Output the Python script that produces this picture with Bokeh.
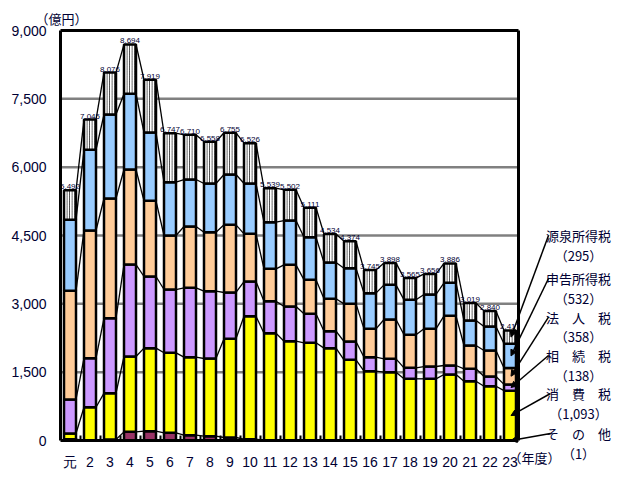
import numpy as np
from bokeh.plotting import figure
from bokeh.models import (FixedTicker, NumeralTickFormatter, Label, Arrow,
                          NormalHead, Range1d)
from bokeh.core.properties import value
from bokeh.embed import file_html
from bokeh.resources import INLINE

# ---------------- data (億円) ----------------
years = ["元", "2", "3", "4", "5", "6", "7", "8", "9", "10", "11", "12",
         "13", "14", "15", "16", "17", "18", "19", "20", "21", "22", "23"]
other = [30, 5, 20, 190, 205, 168, 117, 95, 66, 30, 0, 0,
         0, 0, 0, 0, 0, 0, 0, 0, 0, 0, 1]
consumption = [124, 726, 1019, 1654, 1822, 1757, 1712, 1705, 2166, 2699, 2356, 2180,
               2144, 2027, 1771, 1522, 1500, 1354, 1354, 1449, 1302, 1192, 1093]
inheritance = [746, 1076, 1646, 2019, 1573, 1389, 1522, 1478, 1017, 761, 702, 760,
               637, 373, 402, 307, 293, 241, 270, 197, 271, 213, 138]
corporate = [2385, 2803, 2627, 2085, 1661, 1186, 1346, 1295, 1485, 1047, 710, 916,
             746, 710, 827, 622, 863, 725, 827, 1091, 512, 571, 358]
self_assessed = [1559, 1771, 1844, 1662, 1500, 1170, 1032, 1068, 1105, 1104, 1024, 973,
                 936, 797, 782, 783, 761, 768, 754, 724, 549, 526, 532]
withholding = [648, 664, 920, 1084, 1158, 1077, 981, 917, 916, 885, 747, 673,
               648, 627, 592, 511, 481, 477, 451, 425, 385, 338, 295]
totals = [5492, 7045, 8076, 8694, 7919, 6747, 6710, 6558, 6755, 6526, 5539, 5502,
          5111, 4534, 4374, 3745, 3898, 3565, 3656, 3886, 3019, 2840, 2417]
series_names = ["そ　の　他", "消　費　税", "相　続　税", "法　人　税", "申告所得税", "源泉所得税"]
y_ticks = [0, 1500, 3000, 4500, 6000, 7500, 9000]

series = np.array([other, consumption, inheritance, corporate, self_assessed, withholding])
colors = ["#993366", "#FFFF00", "#CC99FF", "#FFCC99", "#99CCFF", "#FFFFFF"]

# ---------------- layout (page pixels -> data) ----------------
W, H = 620, 479           # canvas (Bokeh page has no body margin)
OFF = 0
PX_PER_X = 20.0           # pixels per category step
BAR1_PX = 69.5            # page x of first category
ZERO_PX, TOP_PX = 440.0, 30.0   # page y of 0 and of 9000
PX_PER_Y = (ZERO_PX - TOP_PX) / 9000.0

XL = 1 - (BAR1_PX - OFF) / PX_PER_X
XR = XL + W / PX_PER_X
YT = (ZERO_PX - OFF) / PX_PER_Y
YB = YT - H / PX_PER_Y


def dx(px):
    return 1 + (px - BAR1_PX) / PX_PER_X


def dy(py):
    return (ZERO_PX - py) / PX_PER_Y


TXT = "#000033"
NUMFONT = "Liberation Sans"
JPFONT = "Noto Sans CJK JP"
FRAME_L, FRAME_R = dx(60), dx(518)

p = figure(width=W, height=H, x_range=Range1d(XL, XR), y_range=Range1d(YB, YT),
           min_border=0, output_backend="svg", toolbar_location=None)
p.outline_line_color = None
p.background_fill_color = "white"
p.border_fill_color = "white"
p.xgrid.visible = False
p.ygrid.visible = False

xs = np.arange(1, len(years) + 1)
w = 0.6
cum = np.cumsum(series, axis=0)
bottoms = cum - series

# gridlines
grid_y = np.array(y_ticks[1:-1], dtype=float)
p.segment(x0=[FRAME_L] * len(grid_y), x1=[FRAME_R] * len(grid_y), y0=grid_y, y1=grid_y,
          line_color="#808080", line_width=2.5)

# series lines connecting stacked boundaries
for k in range(len(series)):
    p.segment(x0=xs[:-1] + w / 2, y0=cum[k][:-1], x1=xs[1:] - w / 2, y1=cum[k][1:],
              line_color="black", line_width=1.3)

for k in range(len(series)):
    kw = {}
    if k == len(series) - 1:
        kw = dict(hatch_pattern="vertical_line", hatch_color="black",
                  hatch_scale=2.5, hatch_weight=0.8)
    p.vbar(x=xs, bottom=bottoms[k], top=cum[k], width=w,
           fill_color=colors[k], line_color="black", line_width=2.5, **kw)

# frame: top and right border
p.segment(x0=[FRAME_L, FRAME_R], y0=[y_ticks[-1], 0], x1=[FRAME_R, FRAME_R],
          y1=[y_ticks[-1], y_ticks[-1]], line_color="black", line_width=3)

# totals
p.text(x=xs, y=totals, text=[f"{t:,}" for t in totals], text_align="center",
       text_baseline="bottom", y_offset=-1, text_font_size="8px",
       text_font=value(NUMFONT), text_color=TXT)

# axes placed at fixed locations inside the canvas
xax = p.xaxis[0]
xax.fixed_location = 0
xax.bounds = (FRAME_L, FRAME_R)
xax.ticker = FixedTicker(ticks=[int(x) for x in xs],
                         minor_ticks=[float(x) + 0.5 for x in xs[:-1]])
xax.major_label_overrides = {int(x): lab for x, lab in zip(xs, years)}
xax.axis_line_color = "black"
xax.axis_line_width = 3
xax.major_tick_in = 0
xax.major_tick_out = 0
xax.minor_tick_in = 5
xax.minor_tick_out = 0
xax.minor_tick_line_color = "black"
xax.minor_tick_line_width = 2
xax.major_label_standoff = 13
xax.major_label_text_font_size = "14px"
xax.major_label_text_font = NUMFONT
xax.major_label_text_color = TXT

yax = p.yaxis[0]
yax.fixed_location = FRAME_L
yax.bounds = (y_ticks[0], y_ticks[-1])
yax.ticker = FixedTicker(ticks=y_ticks)
yax.formatter = NumeralTickFormatter(format="0,0")
yax.axis_line_color = "black"
yax.axis_line_width = 3
yax.major_tick_in = 0
yax.major_tick_out = 0
yax.minor_tick_line_color = None
yax.major_label_standoff = 14
yax.major_label_text_font_size = "14px"
yax.major_label_text_font = NUMFONT
yax.major_label_text_color = TXT

# unit labels
p.add_layout(Label(x=dx(61), y=dy(18), text="（億円）", text_align="center",
                   text_baseline="middle", text_font=JPFONT,
                   text_font_size="13px", text_color=TXT))
p.add_layout(Label(x=dx(534), y=dy(457), text="（年度）", text_align="center",
                   text_baseline="middle", text_font=JPFONT,
                   text_font_size="13px", text_color=TXT))

# right-hand annotation with leaders to the last bar
name_py = [433, 393, 355, 316.7, 278, 235]
start_px = [550, 550, 548, 548, 548, 548]
last = len(years) - 1
for k in range(len(series)):
    v = int(series[k][last])
    p.add_layout(Label(x=dx(578), y=dy(name_py[k]), text=series_names[k],
                       text_align="center", text_baseline="middle",
                       text_font=JPFONT, text_font_size="13px", text_color=TXT))
    p.add_layout(Label(x=dx(578), y=dy(name_py[k] + 19.5), text=f"（{v:,}）",
                       text_align="center", text_baseline="middle",
                       text_font=JPFONT, text_font_size="13px", text_color=TXT))
    y_end = (bottoms[k][last] + cum[k][last]) / 2
    p.add_layout(Arrow(x_start=dx(start_px[k]), y_start=dy(name_py[k]),
                       x_end=xs[last] + 0.05, y_end=y_end,
                       line_color="black", line_width=1.5,
                       end=NormalHead(size=6, fill_color="black", line_color="black")))

open("out.html", "w").write(file_html(p, INLINE))
